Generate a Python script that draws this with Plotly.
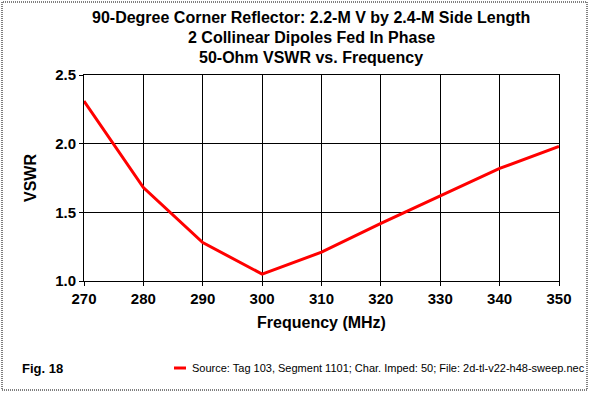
import plotly.graph_objects as go

freq_mhz = [270, 280, 290, 300, 310, 320, 330, 340, 350]
vswr = [2.31, 1.68, 1.28, 1.05, 1.21, 1.42, 1.62, 1.82, 1.98]
x_ticks = [270, 280, 290, 300, 310, 320, 330, 340, 350]
y_ticks = [1.0, 1.5, 2.0, 2.5]
title_lines = ["90-Degree Corner Reflector: 2.2-M V by 2.4-M Side Length",
               "2 Collinear Dipoles Fed In Phase",
               "50-Ohm VSWR vs. Frequency"]
series_name = "Source: Tag 103, Segment 1101; Char. Imped: 50; File: 2d-tl-v22-h48-sweep.nec"

W, H = 592, 394
L, R, T, B = 84, 33, 75, 113
pw, ph = W - L - R, H - T - B

def px(x):
    return (x - L) / pw

def py(y):
    return (H - B - y) / ph

FONT = "Liberation Sans, Arial, sans-serif"

fig = go.Figure()
fig.add_trace(go.Scatter(x=freq_mhz, y=vswr, mode="lines", name=series_name,
                         line=dict(color="#ff0000", width=3), showlegend=False))

axis_common = dict(showline=True, linecolor="black", linewidth=1, mirror=True,
                   showgrid=True, gridcolor="black", gridwidth=1,
                   ticks="outside", ticklen=4, tickcolor="black", zeroline=False,
                   tickfont=dict(family=FONT, size=15, color="black", weight="bold"))

fig.update_xaxes(range=[270, 350], tickvals=x_ticks, ticktext=[str(v) for v in x_ticks],
                 title=dict(text="Frequency (MHz)", font=dict(family=FONT, size=16, color="black", weight="bold"), standoff=10),
                 **axis_common)
fig.update_yaxes(range=[1.0, 2.5], tickvals=y_ticks, ticktext=[f"{v:.1f}" for v in y_ticks],
                 title=dict(text="VSWR", font=dict(family=FONT, size=16, color="black", weight="bold"), standoff=14),
                 **axis_common)

annotations = []
for i, line in enumerate(title_lines):
    annotations.append(dict(text=line, xref="paper", yref="paper", x=px(311), y=py(18 + 19.5 * i),
                            xanchor="center", yanchor="middle", showarrow=False,
                            font=dict(family=FONT, size=16, color="black", weight="bold")))
annotations.append(dict(text="Fig. 18", xref="paper", yref="paper", x=px(20), y=py(368),
                        xanchor="left", yanchor="middle", showarrow=False,
                        font=dict(family=FONT, size=13, color="black", weight="bold")))
annotations.append(dict(text=series_name, xref="paper", yref="paper", x=px(190), y=py(368),
                        xanchor="left", yanchor="middle", showarrow=False,
                        font=dict(family=FONT, size=11, color="black")))

shapes = [
    dict(type="rect", xref="paper", yref="paper", x0=px(2), x1=px(587), y0=py(390), y1=py(2),
         line=dict(color="black", width=1, dash="1px,1px")),
    dict(type="line", xref="paper", yref="paper", x0=px(174), x1=px(186), y0=py(368), y1=py(368),
         line=dict(color="#ff0000", width=3)),
]

fig.update_layout(width=W, height=H, margin=dict(l=L, r=R, t=T, b=B, pad=0),
                  paper_bgcolor="white", plot_bgcolor="white",
                  annotations=annotations, shapes=shapes, showlegend=False)

fig.write_html("out.html", config={"displayModeBar": False},
               post_script="document.body.style.margin='0';document.body.style.overflow='hidden';")
